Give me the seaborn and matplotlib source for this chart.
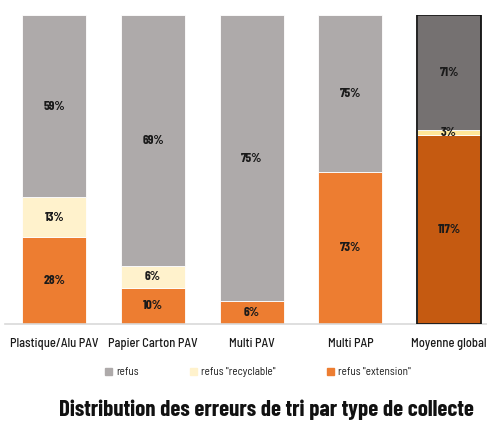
import matplotlib
matplotlib.use("Agg")
import matplotlib.pyplot as plt
from matplotlib.patches import Patch
import seaborn as sns
import pandas as pd
import numpy as np

categories = ["Plastique/Alu PAV", "Papier Carton PAV", "Multi PAV", "Multi PAP", "Moyenne global"]
refus_extension = [28, 10, 6, 73, 117]
refus_recyclable = [13, 6, 0, 0, 3]
refus = [59, 69, 75, 75, 71]
series_names = ["refus", "refus \"recyclable\"", "refus \"extension\""]
title = "Distribution des erreurs de tri par type de collecte"

light = {"ref": "#AEAAAA", "rec": "#FFF2CC", "ext": "#ED7D31"}
dark = {"ref": "#757171", "rec": "#FFE699", "ext": "#C55A11"}

sns.set_theme(style="white")
fam = ["Barlow Semi Condensed", "DejaVu Sans"]
fam_title = ["Barlow Condensed", "DejaVu Sans"]
plt.rcParams["font.family"] = fam

ext = np.array(refus_extension, float)
rec = np.array(refus_recyclable, float)
ref = np.array(refus, float)
tot = ext + rec + ref
p_ext, p_rec, p_ref = ext / tot, rec / tot, ref / tot

df = pd.DataFrame({"cat": categories, "ext": p_ext, "rec": p_rec, "ref": p_ref})

fig = plt.figure(figsize=(4.87, 4.21), dpi=100)
ax = fig.add_axes([5 / 487, (421 - 324) / 421, 482 / 487, 309 / 421])

layers = [("ext", p_ext, np.zeros(5), ext), ("rec", p_rec, p_ext, rec), ("ref", p_ref, p_ext + p_rec, ref)]
for key, vals, bottom, raw in layers:
    n0 = len(ax.patches)
    sns.barplot(data=df, x="cat", y=key, color=light[key], saturation=1, bottom=bottom,
                width=0.65, ax=ax, edgecolor="white", linewidth=0.6, errorbar=None)
    new = ax.patches[n0:]
    new[-1].set_facecolor(dark[key])
    for i in range(5):
        if raw[i] > 0:
            ax.text(i, bottom[i] + vals[i] / 2, f"{int(raw[i])}%", ha="center", va="center",
                    fontsize=9.5, fontweight="bold", color="#1a1a1a", family=fam_title, zorder=6)

# outline the average bar
ax.bar([4], [1.0], width=0.65, bottom=0, fill=False, edgecolor="#111111", linewidth=1.3, zorder=5)

ax.set_xlim(-0.5, 4.384)
ax.set_ylim(0, 1)
ax.set_yticks([])
ax.set_xlabel("")
ax.set_ylabel("")
for s in ["top", "right", "left"]:
    ax.spines[s].set_visible(False)
ax.spines["bottom"].set_color("#D9D9D9")
ax.spines["bottom"].set_linewidth(1.2)
ax.tick_params(axis="x", length=0, pad=10, labelsize=9, colors="#1a1a1a")
for t in ax.get_xticklabels():
    t.set_fontweight("medium")

handles = [Patch(color=light["ref"]), Patch(color=light["rec"]), Patch(color=light["ext"])]
leg = fig.legend(handles, series_names, loc="center", bbox_to_anchor=(258 / 487, 1 - 372 / 421),
                 ncol=3, frameon=False, fontsize=8, handlelength=0.6, handleheight=0.6,
                 handletextpad=0.4, columnspacing=4.6)
for t in leg.get_texts():
    t.set_color("#1a1a1a")

fig.text(266 / 487, 1 - 410 / 421, title, ha="center", va="center", fontsize=16.5,
         fontweight="bold", color="#111111", family=fam_title)

fig.savefig("out.png", dpi=100)
